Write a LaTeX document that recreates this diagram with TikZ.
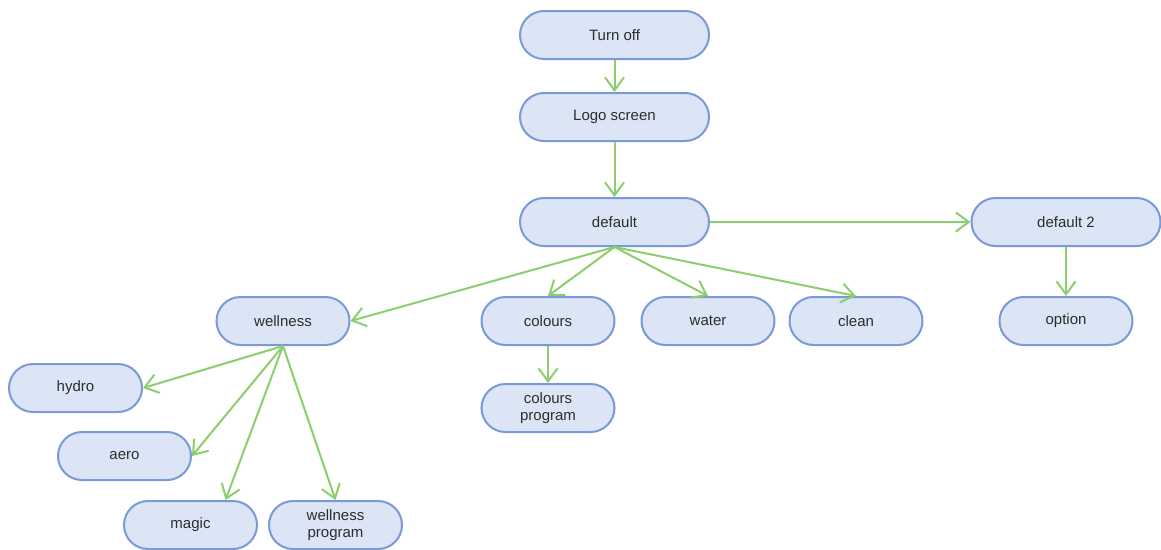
\documentclass[tikz,border=0pt]{standalone}
\usepackage{fontspec}
\setmainfont{Liberation Sans}
\usetikzlibrary{arrows.meta,shapes.misc}
\definecolor{boxfill}{RGB}{219,229,246}
\definecolor{boxline}{RGB}{122,153,214}
\definecolor{arrowgreen}{RGB}{140,206,108}
\definecolor{txt}{RGB}{45,45,45}
\tikzset{
  pill/.style={draw=boxline, fill=boxfill, line width=2pt, rounded rectangle,
    minimum height=48pt, inner sep=0pt, align=center, text=txt,
    font=\fontsize{15}{17}\selectfont},
  widepill/.style={pill, minimum width=189pt},
  narrowpill/.style={pill, minimum width=133pt},
  link/.style={draw=arrowgreen, line width=2pt, -{Straight Barb[length=13pt,width=19pt,line width=2pt]}}
}
\begin{document}
\begin{tikzpicture}[x=1pt,y=-1pt]
\useasboundingbox (0,0) rectangle (1161,549);
\node[widepill] (turnoff) at (614.5,35) {Turn off};
\node[widepill] (logo) at (614.5,117) {Logo screen};
\node[widepill] (default) at (614.5,222) {default};
\node[widepill] (default2) at (1066,222) {default 2};
\node[narrowpill] (option) at (1066,321) {option};
\node[narrowpill] (wellness) at (283,321) {wellness};
\node[narrowpill] (colours) at (548,321) {colours};
\node[narrowpill] (water) at (708,321) {water};
\node[narrowpill] (clean) at (856,321) {clean};
\node[narrowpill] (colprog) at (548,408) {colours\\program};
\node[narrowpill] (hydro) at (75.5,388) {hydro};
\node[narrowpill] (aero) at (124.5,456) {aero};
\node[narrowpill] (magic) at (190.5,525) {magic};
\node[narrowpill] (wprog) at (335.5,525) {wellness\\program};

\draw[link] (turnoff.south) -- (logo.north);
\draw[link] (logo.south) -- (default.north);
\draw[link] (default.east) -- (default2.west);
\draw[link] (default2.south) -- (option.north);
\draw[link] (default.south) -- (wellness.east);
\draw[link] (default.south) -- (colours.north);
\draw[link] (default.south) -- (water.north);
\draw[link] (default.south) -- (clean.north);
\draw[link] (colours.south) -- (colprog.north);
\draw[link] (wellness.south) -- (hydro.east);
\draw[link] (wellness.south) -- (aero.east);
\draw[link] (wellness.south) -- ([xshift=35pt]magic.north);
\draw[link] (wellness.south) -- (wprog.north);
\end{tikzpicture}
\end{document}
